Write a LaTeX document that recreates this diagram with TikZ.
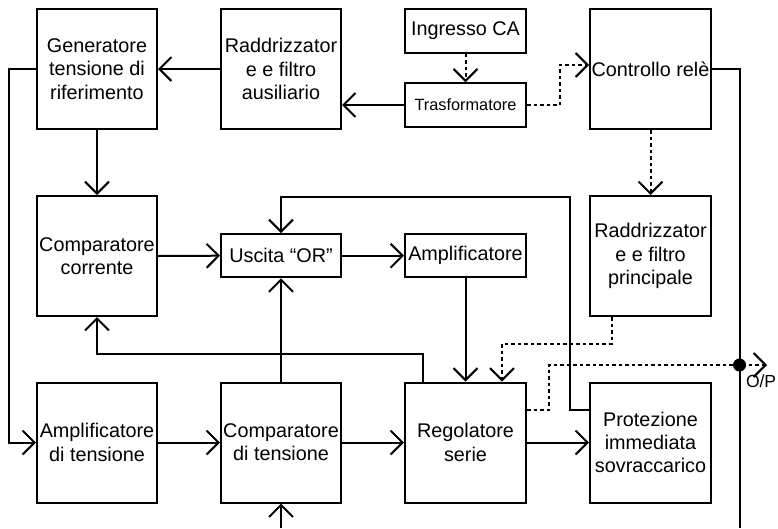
\documentclass[tikz,border=0pt]{standalone}
\usepackage{fontspec}
\setmainfont{Liberation Sans}
\usetikzlibrary{arrows.meta}
\begin{document}
\begin{tikzpicture}[x=1pt,y=-1pt,
  line width=2pt,
  >={Straight Barb[length=12pt,width=24pt]},
  blk/.style={draw,inner sep=0pt,align=center,minimum width=120pt,minimum height=120pt,
    font=\fontsize{19.8}{23.3}\selectfont},
  sblk/.style={blk,minimum height=43.4pt},
  dsh/.style={dash pattern=on 3.5pt off 3pt}]
\useasboundingbox (0,0) rectangle (778,528);
% boxes
\node[blk] (gen) at (97,69) {Generatore\\tensione di\\riferimento};
\node[blk] (raux) at (281,69) {Raddrizzator\\e e filtro\\ausiliario};
\node[sblk,minimum width=121pt] (ing) at (465.5,31) {Ingresso CA};
\node[sblk,minimum width=121pt,font=\fontsize{16.3}{19}\selectfont] (trafo) at (465.5,105) {Trasformatore};
\node[blk,minimum width=121pt] (rele) at (650.5,69) {Controllo relè};
\node[blk] (ccor) at (97,256) {Comparatore\\corrente};
\node[sblk] (or) at (281,255.7) {Uscita “OR”};
\node[sblk,minimum width=121pt] (amp) at (465.5,255.7) {Amplificatore};
\node[blk,minimum width=121pt] (rprin) at (650.5,256) {Raddrizzator\\e e filtro\\principale};
\node[blk] (ampt) at (97,442.5) {Amplificatore\\di tensione};
\node[blk] (ctens) at (281,442.5) {Comparatore\\di tensione};
\node[blk,minimum width=121pt] (reg) at (465.5,442.5) {Regolatore\\serie};
\node[blk,minimum width=121pt] (prot) at (650.5,442.5) {Protezione\\immediata\\sovraccarico};
\node[anchor=north west,inner sep=0pt,font=\fontsize{17.5}{20}\selectfont] (oplab) at (745,374) {O/P};
% coordinates
\coordinate (relebot) at (739.5,528);
\coordinate (dot) at (739.5,365);
\coordinate (op) at (767,365);
\coordinate (k1) at (570,196.7);
\coordinate (in2) at (281,528);
% connectors
\draw[->] (raux) -- (gen);
\draw[->] (trafo.west) -- (trafo.west -| raux.east);
\draw[dsh,->] (ing.south) -- (trafo.north);
\draw[dsh,->] (trafo.east) -- ++(32.5,0) |- ([yshift=4pt]rele.west);
\draw (rele.east) -| (relebot);
\draw[dsh,->] (rele.south) -- (rprin.north);
\draw[->] (gen.west) -- ++(-27,0) |- (ampt.west);
\draw[->] (gen.south) -- (ccor.north);
\draw[->] (ccor.east) -- (or.west);
\draw[->] (or.east) -- (amp.west);
\draw[->] (amp.south) -- (amp.south |- reg.north);
\draw[dsh,->] ([xshift=-39pt]rprin.south) -- ++(0,26.7) -| ([xshift=36.5pt]reg.north);
\draw[dsh,->] ([yshift=32.5pt]reg.east) -- ++(21.5,0) |- (op);
\fill (dot) circle (6.5pt);
\draw[->] (reg.east) -- (prot.west);
\draw[->] ([yshift=32.5pt]prot.west) -| (k1) -| (or.north);
\draw[->] ([xshift=-42.2pt]reg.north) -- ++(0,-28) -| (ccor.south);
\draw[->] (ctens.north) -- (or.south);
\draw[->] (ampt.east) -- (ctens.west);
\draw[->] (ctens.east) -- (reg.west);
\draw[->] (in2) -- (ctens.south);
\end{tikzpicture}
\end{document}
